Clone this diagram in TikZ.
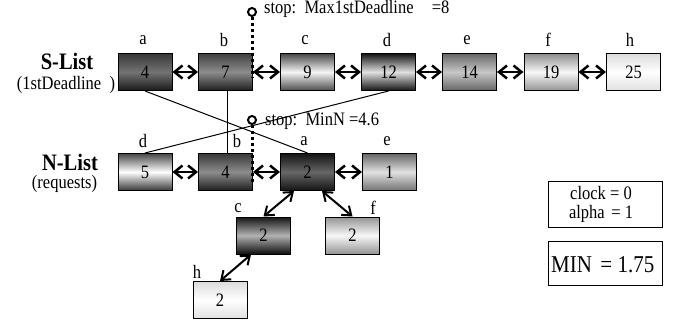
\documentclass[tikz,border=0pt]{standalone}
\usepackage{fontspec}
\setmainfont{Liberation Serif}
\usetikzlibrary{arrows.meta,calc}
\newcommand\lblfont{\fontsize{16.5}{19}\selectfont}
\newcommand\headfont{\fontsize{20.5}{24}\selectfont\bfseries}
% text is set slightly tall and narrow
\newcommand\vt[1]{\scalebox{1}[1.15]{#1}}
\begin{document}
\begin{tikzpicture}[x=1pt,y=-1pt,
  tag/.style={inner sep=0pt, font=\lblfont},
  box/.style={draw=black, line width=1pt, minimum width=54pt, minimum height=37pt, inner sep=0pt, font=\lblfont},
  metal/.style n args={3}{top color=#1, bottom color=#3, middle color=#2},
  dbl/.style={{Straight Barb[length=8pt,width=13pt]}-{Straight Barb[length=8pt,width=13pt]}, line width=2.5pt},
  tree/.style={{Straight Barb[length=8pt,width=12pt]}-{Straight Barb[length=8pt,width=12pt]}, line width=2pt},
  link/.style={line width=1pt},
  stopmark/.style={circle, draw=black, line width=2pt, fill=white, inner sep=0pt, minimum size=8pt},
  stopline/.style={line width=3pt, dash pattern=on 3pt off 3pt},
  infobox/.style={draw=black, line width=1pt, minimum width=114pt, inner sep=0pt}]
\useasboundingbox (0,0) rectangle (677,326);

% ---- S-List ----
\node[tag, font=\headfont] (slist) at (67,61) {\vt{S-List}};
\node[tag] (sdl) at (66,85) {\vt{(1stDeadline\hspace{0.5em})}};

\node[box, metal={black!78}{black!55}{black!90}] (s1) at (145,72) {\vt{4}};
\node[box, metal={black!75}{black!45}{black!88}] (s2) at (225.5,72) {\vt{7}};
\node[box, metal={black!72}{black!4}{black!70}] (s3) at (307.5,72) {\vt{9}};
\node[box, metal={black!92}{black!12}{black!92}] (s4) at (388.5,72) {\vt{12}};
\node[box, metal={black!60}{black!22}{black!60}] (s5) at (469.5,72) {\vt{14}};
\node[box, metal={black!45}{black!3}{black!42}] (s6) at (551,72) {\vt{19}};
\node[box, metal={black!14}{white}{black!12}] (s7) at (633.5,72) {\vt{25}};

\node[tag] (ls1) at (143,40) {\vt{a}};
\node[tag] (ls2) at (224,40) {\vt{b}};
\node[tag] (ls3) at (305,40) {\vt{c}};
\node[tag] (ls4) at (387,40) {\vt{d}};
\node[tag] (ls5) at (467,40) {\vt{e}};
\node[tag] (ls6) at (548,40) {\vt{f}};
\node[tag] (ls7) at (630,40) {\vt{h}};

\foreach \p/\q in {s1/s2,s2/s3,s3/s4,s4/s5,s5/s6,s6/s7}
  \draw[dbl] (\p.east) -- (\q.west);

% ---- N-List ----
\node[tag, font=\headfont] (nlist) at (70,162) {\vt{N-List}};
\node[tag] (nreq) at (64.5,184) {\vt{(requests)}};

\node[box, metal={black!72}{white}{black!78}] (n1) at (145,172) {\vt{5}};
\node[box, metal={black!78}{black!45}{black!88}] (n2) at (225.5,172) {\vt{4}};
\node[box, metal={black!92}{black!60}{black!92}] (n3) at (307.5,172) {\vt{2}};
\node[box, metal={black!60}{black!12}{black!55}] (n4) at (389.5,172) {\vt{1}};

\node[tag] (ln1) at (143,141) {\vt{d}};
\node[tag] (ln2) at (237,141) {\vt{b}};
\node[tag] (ln3) at (304,141) {\vt{a}};
\node[tag] (ln4) at (387,141) {\vt{e}};

\foreach \p/\q in {n1/n2,n2/n3,n3/n4}
  \draw[dbl] (\p.east) -- (\q.west);

% ---- tree below the N-List head ----
\node[box, metal={black!92}{black!30}{black!95}] (tc) at (263.5,235.5) {\vt{2}};
\node[box, metal={black!42}{black!3}{black!42}] (tf) at (352.5,235.5) {\vt{2}};
\node[box, metal={black!14}{white}{black!12}] (th) at (220,300) {\vt{2}};

\node[tag] (ltc) at (238,208) {\vt{c}};
\node[tag] (ltf) at (373,208) {\vt{f}};
\node[tag] (lth) at (197,272) {\vt{h}};

\draw[tree] ([xshift=-13.5pt]n3.south) -- (tc.north);
\draw[tree] ([xshift=14.5pt]n3.south) -- (tf.north);
\draw[tree] ([xshift=-12.5pt]tc.south) -- (th.north);

% ---- links between the two lists ----
\draw[link] (s1.south) -- (n3.north);
\draw[link] ([xshift=1.5pt]s2.south) -- ([xshift=1.5pt]n2.north);
\draw[link] (s4.south) -- (n1.north);

% ---- stop markers ----
\node[stopmark] (stop1) at (252,12) {};
\coordinate (stop1end) at (252,78);
\draw[stopline] (stop1.south) -- (stop1end);
\node[tag, anchor=west] (stop1txt) at (264,9) {\vt{stop:\hspace{0.5em}Max1stDeadline\hspace{1.1em}=8}};

\node[stopmark] (stop2) at (252,120) {};
\coordinate (stop2end) at (252,182);
\draw[stopline] (stop2.south) -- (stop2end);
\node[tag, anchor=west] (stop2txt) at (265,121.5) {\vt{stop:\hspace{0.5em}MinN =4.6}};

% ---- state boxes ----
\node[infobox, minimum height=46pt] (clk) at (605,204) {};
\node[tag] (clock) at (601,193) {\vt{clock = 0}};
\node[tag] (alpha) at (601,214) {\vt{alpha\hspace{0.4em}= 1}};

\node[infobox, minimum height=44pt] (minb) at (605,263) {};
\node[tag, anchor=west, font=\fontsize{21}{24}\selectfont] (mintxt) at (551,265) {\vt{MIN\hspace{0.4em}= 1.75}};
\end{tikzpicture}
\end{document}
